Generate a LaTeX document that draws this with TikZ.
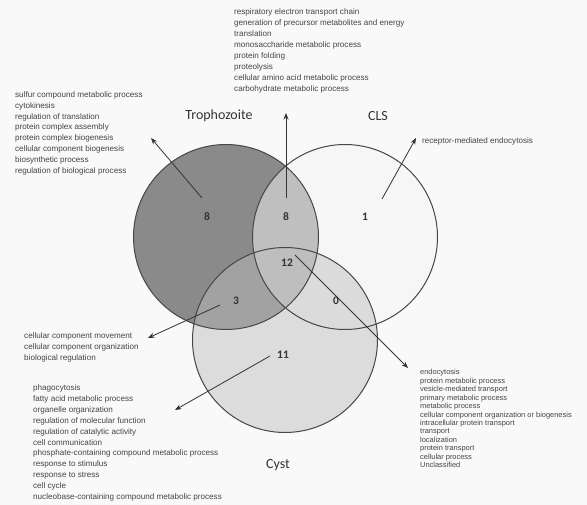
\documentclass[tikz,border=0pt]{standalone}
\usepackage{fontspec}
\setmainfont{Carlito}
\newfontfamily\listfont{Liberation Sans}
\usetikzlibrary{arrows.meta}
\definecolor{paper}{HTML}{F9F9F9}
\definecolor{trofill}{HTML}{8A8A8A}
\definecolor{clsfill}{HTML}{F4F4F4}
\definecolor{cystfill}{HTML}{BEBEBE}
\definecolor{ring}{HTML}{474747}
\definecolor{ink}{HTML}{333333}
\definecolor{termink}{HTML}{444444}
\tikzset{
  setcircle/.style={circle,inner sep=0pt,minimum size=185pt},
  setname/.style={font=\fontsize{14}{16}\selectfont,text=ink},
  count/.style={font=\fontsize{11.5}{13}\selectfont\bfseries,text=ink},
  terms/.style={font=\listfont\fontsize{8.1}{10.9}\selectfont,text=termink,
    align=left,anchor=north west,inner sep=0pt},
  smallterms/.style={terms,font=\listfont\fontsize{7.45}{8.45}\selectfont},
  pointer/.style={-{Stealth[length=6.5pt,width=5pt]},draw=ink,line width=0.8pt}
}
\begin{document}
\begin{tikzpicture}[x=1pt,y=-1pt]
      \useasboundingbox[fill=paper] (0,0) rectangle (587,505);
      % the three sets
      \node[setcircle,fill=trofill] (tro) at (226,237) {};
      \node[setcircle,fill=clsfill,fill opacity=0.5] (cls) at (345,237) {};
      \node[setcircle,fill=cystfill,fill opacity=0.48] (cyst) at (285,340) {};
      \foreach \s in {tro,cls,cyst}
        \draw[ring,line width=1pt] (\s.center) circle (92.5);
      \draw
        (219,116) node[setname] (trophozoite){Trophozoite}
        (378,116) node[setname] (clsname){CLS}
        (278,465) node[setname] (cystname){Cyst};
      \draw
        (207,217) node[count] (t){8}
        (286,217) node[count] (tc){8}
        (365,217) node[count] (c){1}
        (287,263) node[count] (tcy){12}
        (236,301) node[count] (ty){3}
        (336,301) node[count] (cy){0}
        (283,355) node[count] (y){11};
      \draw
        (15,91.2) node[terms] (tlist){sulfur compound metabolic process\\
          cytokinesis\\regulation of translation\\protein complex assembly\\
          protein complex biogenesis\\cellular component biogenesis\\
          biosynthetic process\\regulation of biological process}
        (234,8.9) node[terms] (tclist){respiratory electron transport chain\\
          generation of precursor metabolites and energy\\translation\\
          monosaccharide metabolic process\\protein folding\\proteolysis\\
          cellular amino acid metabolic process\\carbohydrate metabolic process}
        (422,137.2) node[terms] (clist){receptor-mediated endocytosis}
        (24,332.2) node[terms] (tylist){cellular component movement\\
          cellular component organization\\biological regulation}
        (33,384.5) node[terms] (ylist){phagocytosis\\fatty acid metabolic process\\
          organelle organization\\regulation of molecular function\\
          regulation of catalytic activity\\cell communication\\
          phosphate-containing compound metabolic process\\response to stimulus\\
          response to stress\\cell cycle\\
          nucleobase-containing compound metabolic process}
        (420,369.2) node[smallterms] (tcylist){endocytosis\\protein metabolic process\\
          vesicle-mediated transport\\primary metabolic process\\metabolic process\\
          cellular component organization or biogenesis\\
          intracellular protein transport\\transport\\localization\\
          protein transport\\cellular process\\Unclassified};
      \coordinate (t0) at (202,198);  \coordinate (t1) at (151,138);
      \coordinate (tc0) at (286,198); \coordinate (tc1) at (286,113);
      \coordinate (c0) at (382,199);  \coordinate (c1) at (416,138);
      \coordinate (tcy0) at (295,255); \coordinate (tcy1) at (408,368);
      \coordinate (ty0) at (220,305); \coordinate (ty1) at (148,338);
      \coordinate (y0) at (270,356);  \coordinate (y1) at (175,410);
      \begin{scope}[pointer]
        \draw (t0) to (t1);
        \draw (tc0) to (tc1);
        \draw (c0) to (c1);
        \draw (tcy0) to (tcy1);
        \draw (ty0) to (ty1);
        \draw (y0) to (y1);
      \end{scope}
    \end{tikzpicture}
\end{document}
